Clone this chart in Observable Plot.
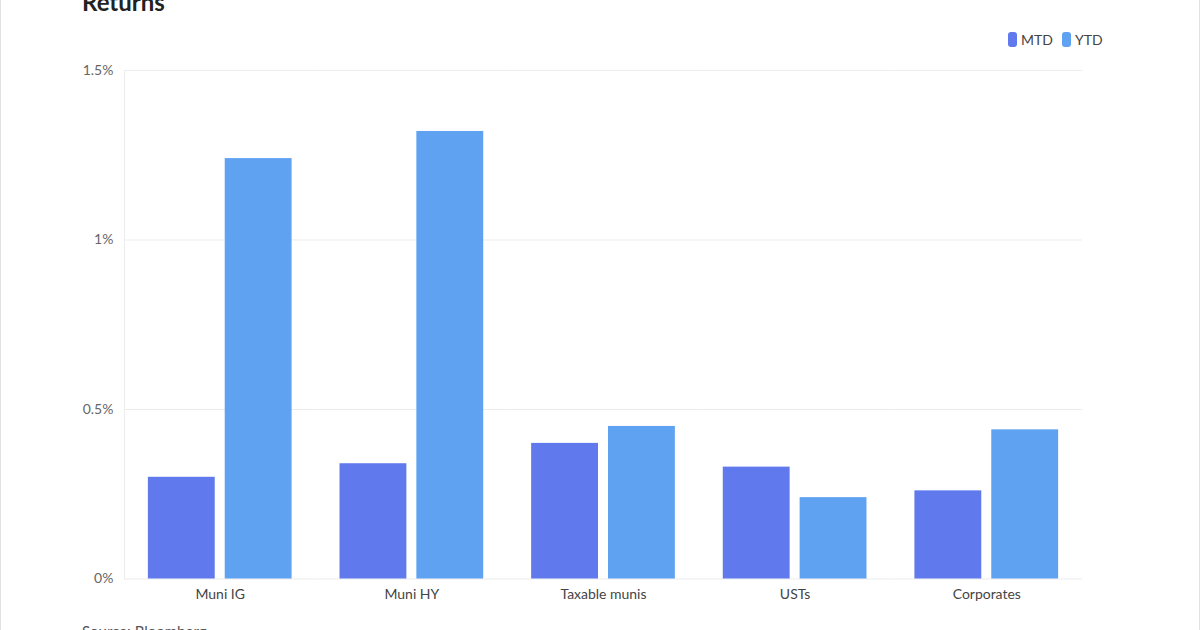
<!DOCTYPE html>
<html>
<head>
<meta charset="utf-8">
<script src="https://cdn.jsdelivr.net/npm/d3@7"></script>
<script src="https://cdn.jsdelivr.net/npm/@observablehq/plot@0.6"></script>
<style>
  html, body { margin: 0; padding: 0; background: #fff; }
  #wrap { position: relative; width: 1200px; height: 630px; overflow: hidden; font-family: Lato, sans-serif; border-left: 1px solid #e2e2e2; border-right: 1px solid #e2e2e2; box-sizing: border-box; }
  #title { position: absolute; left: 81px; top: -10.5px; font-size: 24px; line-height: 24px; font-weight: 700; color: #222; }
  #caption { position: absolute; left: 81px; top: 624px; font-size: 15px; line-height: 15px; color: #555; }
  #legend { position: absolute; left: 1007px; top: 31px; display: flex; align-items: center; font-size: 14px; color: #444; }
  #legend .item { display: flex; align-items: center; margin-right: 9px; }
  #legend .sw { width: 9px; height: 15px; border-radius: 3px; margin-right: 4px; }
  #chart { position: absolute; left: -1px; top: 0; }
</style>
</head>
<body>
<div id="wrap">
  <div id="title">Returns</div>
  <div id="legend"></div>
  <div id="chart"></div>
  <div id="caption">Source: Bloomberg</div>
</div>
<script>
const categories = ["Muni IG", "Muni HY", "Taxable munis", "USTs", "Corporates"];
const series = ["MTD", "YTD"];
const mtdValues = [0.30, 0.34, 0.40, 0.33, 0.26];
const ytdValues = [1.24, 1.32, 0.45, 0.24, 0.44];
const yTicks = [0, 0.5, 1, 1.5];
const colors = ["#607AEE", "#60A2F2"];

const rows = [];
categories.forEach((c, i) => {
  rows.push({category: c, series: "MTD", value: mtdValues[i]});
  rows.push({category: c, series: "YTD", value: ytdValues[i]});
});

const legend = document.getElementById("legend");
series.forEach((s, i) => {
  const item = document.createElement("div");
  item.className = "item";
  const sw = document.createElement("div");
  sw.className = "sw";
  sw.style.background = colors[i];
  const t = document.createElement("span");
  t.textContent = s;
  item.appendChild(sw);
  item.appendChild(t);
  legend.appendChild(item);
});

const chart = Plot.plot({
  width: 1200,
  height: 620,
  marginTop: 70,
  marginBottom: 41,
  marginLeft: 124,
  marginRight: 117,
  style: {fontFamily: "Lato, sans-serif", fontSize: "14px", background: "transparent"},
  fx: {domain: categories, padding: 0, round: false, label: null},
  x: {domain: series, paddingInner: 0.13, paddingOuter: 0.3117, round: false, axis: null},
  y: {domain: [0, 1.5], label: null},
  color: {domain: series, range: colors},
  marks: [
    Plot.gridY(yTicks, {stroke: "#ececec", strokeOpacity: 1}),
    Plot.frame({anchor: "left", facetAnchor: "left", stroke: "#ececec"}),
    Plot.barY(rows, {fx: "category", x: "series", y: "value", fill: "series"}),
    Plot.axisY(yTicks, {tickSize: 0, tickPadding: 11, tickFormat: d => d + "%", fill: "#666", label: null}),
    Plot.axisFx({anchor: "bottom", tickSize: 0, tickPadding: 10, fill: "#444", label: null})
  ]
});
document.getElementById("chart").appendChild(chart);
</script>
</body>
</html>
